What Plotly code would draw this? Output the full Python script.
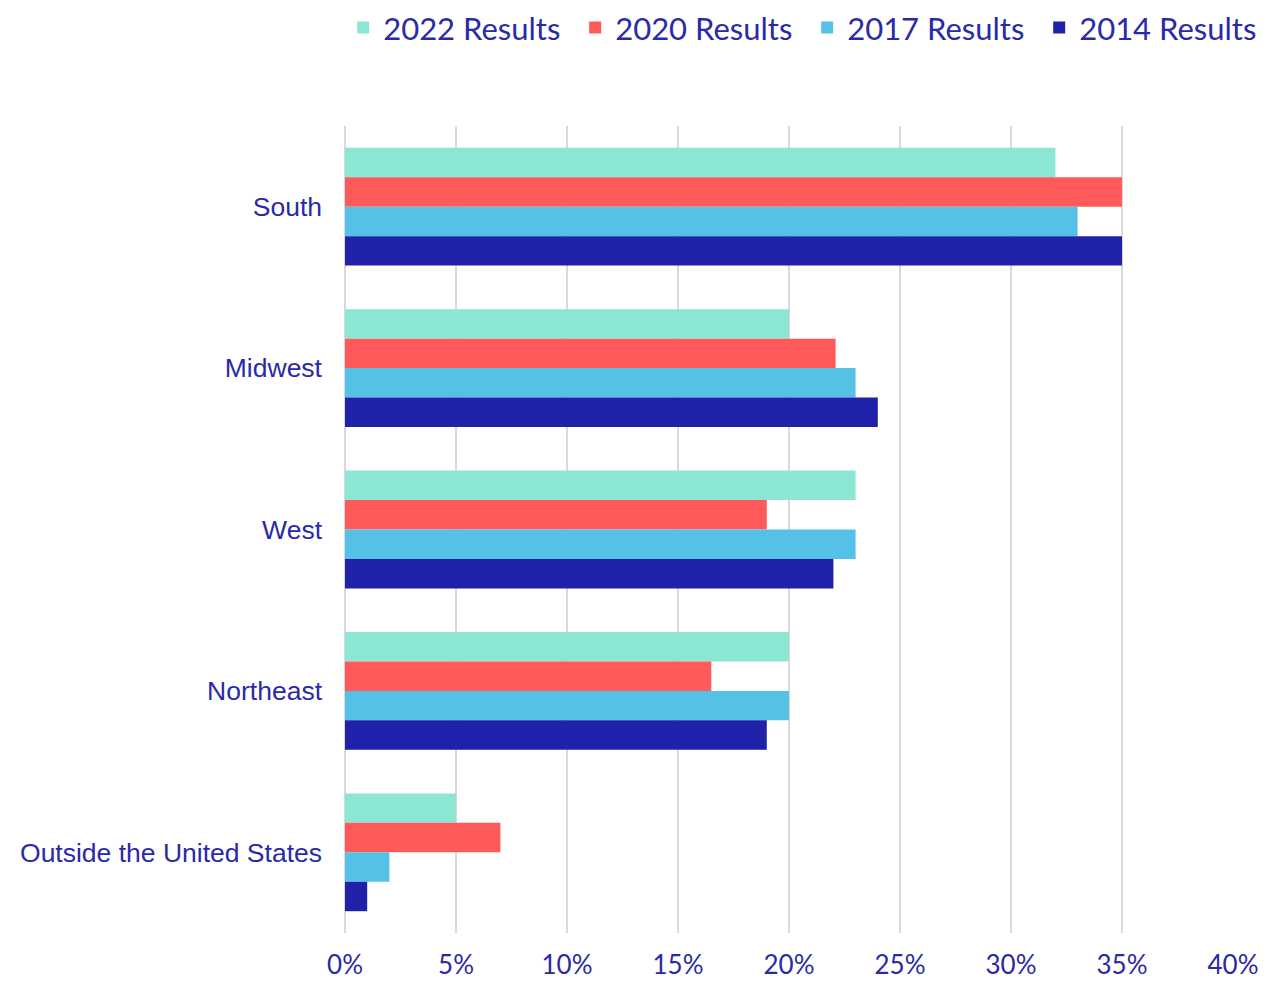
import plotly.graph_objects as go

# regions, top to bottom as shown
regions = ["South", "Midwest", "West", "Northeast", "Outside the United States"]

# share of respondents (%) per survey year
results_2022 = [32, 20, 23, 20, 5]
results_2020 = [35, 22.1, 19, 16.5, 7]
results_2017 = [33, 23, 23, 20, 2]
results_2014 = [35, 24, 22, 19, 1]

series = [
    ("2022 Results", results_2022, "#8BE6D3"),
    ("2020 Results", results_2020, "#FF5A5A"),
    ("2017 Results", results_2017, "#55C1E7"),
    ("2014 Results", results_2014, "#1F21A8"),
]

TEXT = "#2A2AA8"
GEO_FONT = "Lato"

fig = go.Figure()
for name, vals, color in series:
    fig.add_trace(go.Bar(
        y=regions, x=vals, name=name, orientation="h",
        marker=dict(color=color, line=dict(width=0)),
        hoverinfo="x+y+name",
    ))

# the page body adds an 8px margin, so the figure is 8px smaller than the window
fig.update_layout(
    width=1275, height=973,
    margin=dict(l=337, r=50, t=118, b=48, autoexpand=False),
    paper_bgcolor="white", plot_bgcolor="white",
    barmode="group", bargap=0.27, bargroupgap=0,
    legend=dict(
        orientation="h", x=1.043, xanchor="right", y=1.155, yanchor="top",
        font=dict(family=GEO_FONT, size=31, color=TEXT),
        traceorder="normal", entrywidth=187,
    ),
    xaxis=dict(
        range=[0, 40], dtick=5, ticksuffix="%",
        showgrid=True, gridcolor="#D9D9D9", gridwidth=2,
        zeroline=True, zerolinecolor="#D9D9D9", zerolinewidth=2,
        showline=False, ticks="", automargin=False,
        tickfont=dict(family=GEO_FONT, size=26, color=TEXT),
        ticklabelstandoff=14,
    ),
    yaxis=dict(
        autorange="reversed", showgrid=False, showline=False, ticks="",
        automargin=False,
        tickfont=dict(family="Liberation Sans, Arial", size=26.5, color=TEXT),
        ticklabelstandoff=22,
    ),
)

fig.write_html("out.html")
